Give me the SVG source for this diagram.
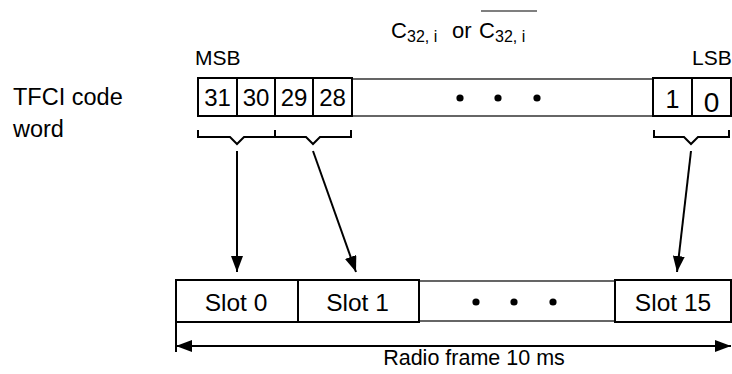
<svg xmlns="http://www.w3.org/2000/svg" width="732" height="374" viewBox="0 0 732 374">
<style>
text{font-family:"Liberation Sans",Arial,sans-serif;fill:#000}
.box{fill:#fff;stroke:#000;stroke-width:2}
.thin{fill:none;stroke:#000;stroke-width:1.2}
.ln{fill:none;stroke:#000;stroke-width:2}
.dot{fill:#000}
</style>
<defs>
<marker id="ah" viewBox="0 0 16 12" refX="16" refY="6" markerWidth="16" markerHeight="12" markerUnits="userSpaceOnUse" orient="auto-start-reverse">
<path d="M0,0 L16,6 L0,12 Z" fill="#000"/>
</marker>
</defs>
<g id="title">
<text x="391" y="38" font-size="22">C</text>
<text x="407" y="42" font-size="16">32, i</text>
<text x="452" y="38" font-size="22">or</text>
<text x="479" y="38" font-size="22">C</text>
<text x="495" y="42" font-size="16">32, i</text>
<line x1="481" y1="11" x2="537" y2="11" stroke="#000" stroke-width="1.2"/>
</g>
<g id="label-tfci">
<text x="13" y="105" font-size="23.5">TFCI code</text>
<text x="13" y="137" font-size="23.5">word</text>
</g>
<g id="msb"><text x="195" y="65" font-size="21">MSB</text></g>
<g id="lsb"><text x="692" y="65" font-size="21">LSB</text></g>
<g id="codeword">
<rect x="352" y="79" width="301" height="37" class="thin"/>
<rect x="198" y="78" width="39" height="38" class="box"/>
<rect x="237" y="78" width="38" height="38" class="box"/>
<rect x="275" y="78" width="38" height="38" class="box"/>
<rect x="313" y="78" width="39" height="38" class="box"/>
<rect x="653" y="78" width="39" height="38" class="box"/>
<rect x="692" y="78" width="39" height="38" class="box"/>
<g font-size="24" text-anchor="middle">
<text x="217.5" y="106">31</text>
<text x="256" y="106">30</text>
<text x="294" y="106">29</text>
<text x="332.5" y="106">28</text>
</g>
<text x="672.5" y="108" font-size="25" text-anchor="middle">1</text>
<text x="711.5" y="112" font-size="28" text-anchor="middle">0</text>
<circle cx="460" cy="98" r="3.6" class="dot"/>
<circle cx="498" cy="98" r="3.6" class="dot"/>
<circle cx="537" cy="98" r="3.6" class="dot"/>
</g>
<g id="braces">
<path class="ln" d="M198,130 V137 H230 L237,144 L244,137 H275 V130"/>
<path class="ln" d="M275,137 H306 L313,144 L320,137 H351 V130"/>
<path class="ln" d="M654,130 V137 H684 L691,144 L698,137 H729 V130"/>
</g>
<g id="slots">
<rect x="176" y="280" width="122" height="42" class="box"/>
<rect x="298" y="280" width="121" height="42" class="box"/>
<rect x="419" y="281" width="196" height="40" class="thin"/>
<rect x="615" y="280" width="116" height="42" class="box"/>
<g font-size="24.5" text-anchor="middle">
<text x="236" y="311">Slot 0</text>
<text x="357.5" y="311">Slot 1</text>
<text x="673" y="311">Slot 15</text>
</g>
<circle cx="476" cy="302" r="3.6" class="dot"/>
<circle cx="514" cy="302" r="3.6" class="dot"/>
<circle cx="553" cy="302" r="3.6" class="dot"/>
</g>
<g id="connectors">
<line x1="237" y1="151" x2="237" y2="272" class="ln" marker-end="url(#ah)"/>
<line x1="313" y1="151" x2="356" y2="272" class="ln" marker-end="url(#ah)"/>
<line x1="691" y1="151" x2="677" y2="272" class="ln" marker-end="url(#ah)"/>
<line x1="176" y1="322" x2="176" y2="352" class="ln"/>
<line x1="176" y1="346" x2="731" y2="346" class="ln" marker-start="url(#ah)" marker-end="url(#ah)"/>
</g>
<g id="caption"><text x="474" y="365" font-size="21.5" text-anchor="middle">Radio frame 10 ms</text></g>
</svg>
